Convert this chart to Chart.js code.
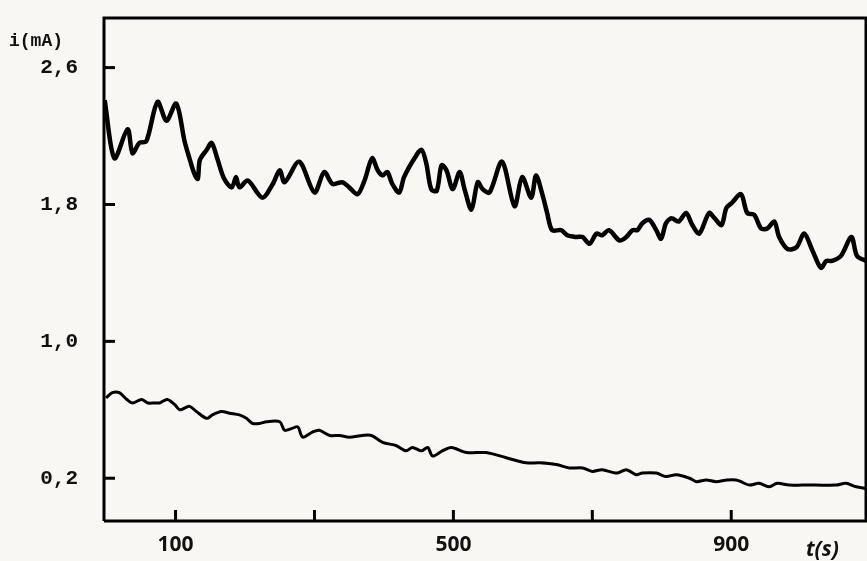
<!DOCTYPE html>
<html>
<head>
<meta charset="utf-8">
<script src="https://cdn.jsdelivr.net/npm/chart.js@4/dist/chart.umd.min.js"></script>
<style>
  body { margin: 0; background: #f8f7f4; }
  #wrap { width: 867px; height: 561px; }
</style>
</head>
<body>
<div id="wrap"><canvas id="plot"></canvas></div>
<script>
// upper trace, t (s) and i (mA)
const tUpper = [-2, 12, 31, 38, 48, 58, 74, 87, 101, 113, 120, 127, 132, 135, 145, 152, 160, 170, 181, 187, 192, 204, 225, 240, 250, 257, 278,
  300, 314, 326, 340, 350, 362, 372, 383, 391, 398, 405, 412, 422, 429, 444, 454, 461, 468, 476, 483, 490, 499, 509, 516, 526, 535, 542, 552,
  570, 588, 599, 612, 619, 628, 635, 642, 655, 664, 677, 686, 696, 706, 714, 724, 739, 749, 758, 765, 772, 782, 792, 799, 806, 814, 824,
  835, 844, 854, 868, 876, 886, 893, 901, 914, 923, 933, 943, 952, 962, 969, 981, 994, 1005, 1017, 1029, 1037, 1045, 1058, 1073, 1081, 1094];
const iUpper = [2.41, 2.07, 2.24, 2.10, 2.16, 2.17, 2.40, 2.29, 2.39, 2.17, 2.07, 1.98, 1.95, 2.06, 2.12, 2.16, 2.07, 1.95, 1.90, 1.96, 1.90, 1.94, 1.84, 1.92, 2.00, 1.93, 2.05,
  1.87, 1.99, 1.92, 1.93, 1.90, 1.86, 1.94, 2.07, 2.00, 1.97, 1.99, 1.92, 1.87, 1.96, 2.07, 2.12, 2.04, 1.89, 1.88, 2.03, 2.00, 1.89, 1.99, 1.89, 1.77, 1.93, 1.89, 1.87,
  2.05, 1.79, 1.96, 1.84, 1.97, 1.86, 1.75, 1.65, 1.65, 1.62, 1.61, 1.61, 1.57, 1.63, 1.62, 1.65, 1.59, 1.61, 1.65, 1.65, 1.69, 1.71, 1.65, 1.60, 1.69, 1.72, 1.70,
  1.75, 1.68, 1.63, 1.75, 1.72, 1.68, 1.78, 1.81, 1.86, 1.75, 1.74, 1.66, 1.66, 1.70, 1.61, 1.54, 1.55, 1.63, 1.53, 1.43, 1.47, 1.47, 1.50, 1.61, 1.50, 1.47];

// lower trace
const tLower = [0, 9, 19, 30, 38, 51, 60, 70, 77, 88, 99, 106, 120, 130, 145, 153, 166, 178, 192, 202, 211, 221, 231, 250, 257, 267, 276, 283,
  297, 307, 322, 336, 350, 369, 382, 398, 418, 432, 441, 454, 463, 470, 484, 497, 519, 547, 576, 605, 624, 648, 667, 686, 700, 714, 735,
  749, 763, 772, 792, 806, 821, 840, 850, 864, 878, 894, 907, 914, 926, 940, 955, 966, 983, 1002, 1022, 1051, 1065, 1080, 1094];
const iLower = [0.67, 0.70, 0.70, 0.66, 0.64, 0.66, 0.64, 0.64, 0.64, 0.66, 0.63, 0.60, 0.62, 0.59, 0.55, 0.57, 0.59, 0.58, 0.57, 0.55, 0.52, 0.52, 0.53, 0.53, 0.48, 0.49, 0.50, 0.44,
  0.47, 0.48, 0.45, 0.45, 0.44, 0.45, 0.45, 0.41, 0.39, 0.36, 0.38, 0.36, 0.38, 0.33, 0.36, 0.38, 0.35, 0.35, 0.32, 0.29, 0.29, 0.28, 0.26, 0.26, 0.24, 0.25, 0.23,
  0.25, 0.22, 0.23, 0.23, 0.21, 0.22, 0.20, 0.18, 0.19, 0.18, 0.19, 0.19, 0.18, 0.16, 0.17, 0.15, 0.17, 0.16, 0.16, 0.16, 0.16, 0.17, 0.15, 0.14];

const yTicks = [2.6, 1.8, 1.0, 0.2];
const xTicks = [100, 300, 500, 700, 900];
const xTickLabels = ['100', '', '500', '', '900'];

function toPoints(ts, vs) {
  return ts.map((t, k) => ({ x: t, y: vs[k] }));
}

// paper background, frame, inward tick marks and the two axis names
const paper = {
  id: 'paper',
  beforeDraw(chart) {
    const ctx = chart.ctx;
    ctx.save();
    ctx.fillStyle = '#f8f7f4';
    ctx.fillRect(0, 0, chart.width, chart.height);
    ctx.restore();
  },
  afterDraw(chart) {
    const ctx = chart.ctx;
    const a = chart.chartArea;
    const xs = chart.scales.x, ys = chart.scales.y;
    ctx.save();
    ctx.strokeStyle = '#000';
    ctx.lineWidth = 3;
    ctx.beginPath();
    ctx.moveTo(a.left, a.bottom);
    ctx.lineTo(a.left, a.top);
    ctx.lineTo(a.right, a.top);
    ctx.lineTo(a.right, a.bottom);
    ctx.lineTo(a.left, a.bottom);
    ctx.stroke();

    ys.ticks.forEach(tk => {
      const py = ys.getPixelForValue(tk.value);
      ctx.beginPath();
      ctx.moveTo(a.left, py);
      ctx.lineTo(a.left + 11, py);
      ctx.stroke();
    });
    xs.ticks.forEach(tk => {
      const px = xs.getPixelForValue(tk.value);
      ctx.beginPath();
      ctx.moveTo(px, a.bottom);
      ctx.lineTo(px, a.bottom - 11);
      ctx.stroke();
    });

    ctx.fillStyle = '#111';
    ctx.textBaseline = 'middle';
    ctx.font = 'bold 18px "Liberation Mono"';
    ctx.fillText('i(mA)', 9, 41);
    ctx.font = 'italic bold 21px "Open Sans"';
    ctx.fillText('t(s)', 806, 550);
    ctx.restore();
  }
};

new Chart(document.getElementById('plot'), {
  type: 'line',
  data: {
    datasets: [
      {
        label: 'upper',
        data: toPoints(tUpper, iUpper),
        borderColor: '#000',
        borderWidth: 4.5,
        pointRadius: 0,
        tension: 0.3,
        fill: false
      },
      {
        label: 'lower',
        data: toPoints(tLower, iLower),
        borderColor: '#000',
        borderWidth: 3,
        pointRadius: 0,
        tension: 0.3,
        fill: false
      }
    ]
  },
  options: {
    responsive: true,
    maintainAspectRatio: false,
    animation: false,
    layout: { padding: { top: 18, right: 1, left: 0, bottom: 0 } },
    plugins: {
      legend: { display: false },
      tooltip: { enabled: false }
    },
    scales: {
      x: {
        type: 'linear',
        min: -3,
        max: 1094,
        afterBuildTicks: s => { s.ticks = xTicks.map(v => ({ value: v })); },
        afterFit: s => { s.height = 40; s.paddingLeft = 0; s.paddingRight = 0; },
        grid: { display: false, drawTicks: false },
        border: { display: false },
        ticks: {
          padding: 11,
          maxRotation: 0,
          color: '#111',
          font: { family: 'Open Sans', size: 21, weight: 'bold' },
          callback: v => xTickLabels[xTicks.indexOf(v)] ?? ''
        }
      },
      y: {
        min: -0.05,
        max: 2.89,
        afterBuildTicks: s => { s.ticks = yTicks.map(v => ({ value: v })); },
        afterFit: s => { s.width = 104; s.paddingTop = 0; s.paddingBottom = 0; },
        grid: { display: false, drawTicks: false },
        border: { display: false },
        ticks: {
          padding: 26,
          color: '#111',
          font: { family: 'Liberation Mono', size: 21, weight: 'bold' },
          callback: v => v.toFixed(1).replace('.', ',')
        }
      }
    }
  },
  plugins: [paper]
});
</script>
</body>
</html>
